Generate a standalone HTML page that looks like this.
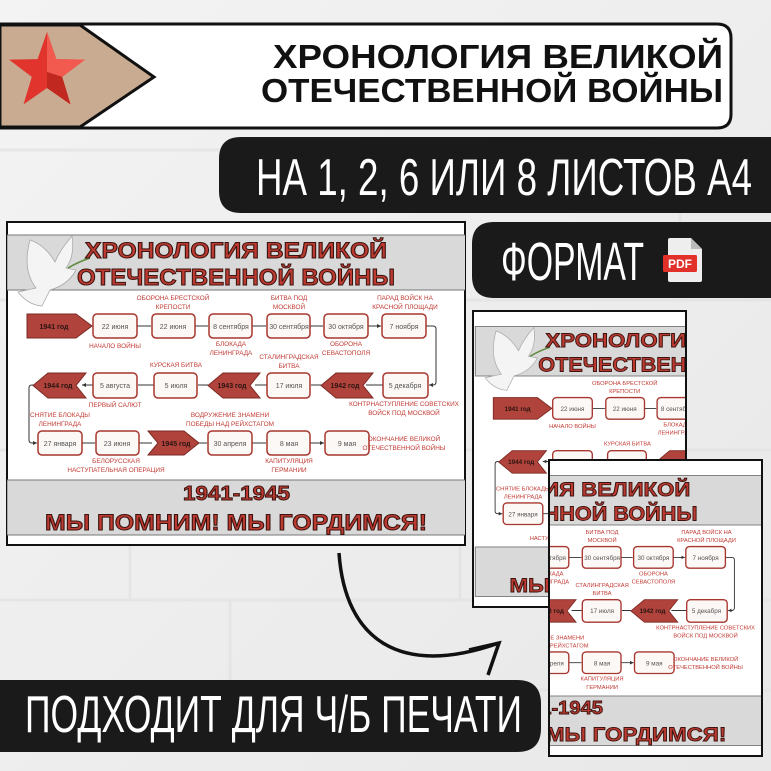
<!DOCTYPE html>
<html><head><meta charset="utf-8"><style>
html,body{margin:0;padding:0;width:771px;height:771px;overflow:hidden;background:#ececec}
svg{display:block}
.lb{font-family:"Liberation Sans Narrow","Liberation Sans",sans-serif;font-size:6.4px;fill:#c23a33;text-anchor:middle}
.bx{fill:#fbf8f6;stroke:#a8362f;stroke-width:1.5}
.bt{font-family:"Liberation Sans",sans-serif;font-size:7px;fill:#555;text-anchor:middle}
.yr{fill:#b0433b;stroke:#7d2a24;stroke-width:1}
.yt{font-family:"Liberation Sans",sans-serif;font-size:7px;font-weight:bold;fill:#2a1412;text-anchor:middle}
.cn{stroke:#333;stroke-width:1;fill:none}
.rt{font-family:"Liberation Sans",sans-serif;font-weight:bold;fill:#bd3a31;stroke:#3a1410;stroke-width:1}
</style></head><body>
<svg width="771" height="771" viewBox="0 0 771 771" xmlns="http://www.w3.org/2000/svg">
<defs>
<marker id="ah" markerWidth="5" markerHeight="5" refX="4" refY="2.5" orient="auto"><path d="M0,0.5 L4,2.5 L0,4.5 z" fill="#333"/></marker>
<linearGradient id="bg" x1="0" y1="0" x2="1" y2="1"><stop offset="0" stop-color="#f3f3f3"/><stop offset="1" stop-color="#e8e8e8"/></linearGradient>
<clipPath id="c1"><rect x="7" y="222" width="458" height="323"/></clipPath>
<clipPath id="c2"><rect x="473" y="311" width="213" height="296"/></clipPath>
<clipPath id="c3"><rect x="549" y="460" width="213" height="296"/></clipPath>
</defs>
<rect width="771" height="771" fill="url(#bg)"/>
<g stroke="#e2e2e2" stroke-width="3" fill="none" opacity="0.7">
<path d="M0,150 H771 M0,300 H771 M0,450 H771 M0,600 H771 M0,690 H771"/>
<path d="M230,600 V690 M600,600 V690 M130,450 V600 M460,450 V600 M300,300 V450 M680,150 V300"/>
</g>

<path d="M0,24 H717 Q731,24 731,38 V114 Q731,128 717,128 H0 Z" fill="#fff" stroke="#111" stroke-width="3"/>
<path d="M0,25 H80 L154,77 L80,127 H0 Z" fill="#c9ab92" stroke="#111" stroke-width="3"/>
<polygon points="47,32 56.4,59.1 85,59.6 62.2,76.9 70.5,104.4 47,88 23.5,104.4 31.8,76.9 9,59.6 37.6,59.1" fill="#e0342c"/>
<polygon points="47,32 56.4,59.1 85,59.6 62.2,76.9 47,72" fill="#f25a50"/>
<polygon points="47,72 62.2,76.9 70.5,104.4 47,88" fill="#c02820"/>
<text x="273" y="68" font-family="Liberation Sans,sans-serif" font-weight="bold" font-size="33" textLength="450" lengthAdjust="spacingAndGlyphs" fill="#111">ХРОНОЛОГИЯ ВЕЛИКОЙ</text>
<text x="261" y="102" font-family="Liberation Sans,sans-serif" font-weight="bold" font-size="33" textLength="462" lengthAdjust="spacingAndGlyphs" fill="#111">ОТЕЧЕСТВЕННОЙ ВОЙНЫ</text>

<path d="M771,137 H241 Q219,137 219,159 V191 Q219,213 241,213 H771 Z" fill="#1a1a1a"/>
<text x="256" y="195" font-family="Liberation Sans Narrow,Liberation Sans,sans-serif" font-size="52" textLength="496" lengthAdjust="spacingAndGlyphs" fill="#fff">НА 1, 2, 6 ИЛИ 8 ЛИСТОВ А4</text>

<path d="M771,222 H494 Q472,222 472,244 V276 Q472,298 494,298 H771 Z" fill="#1a1a1a"/>
<text x="501" y="280" font-family="Liberation Sans Narrow,Liberation Sans,sans-serif" font-size="54" textLength="143" lengthAdjust="spacingAndGlyphs" fill="#fff">ФОРМАТ</text>
<path d="M668,240 Q668,238 670,238 H691 L702,249 V280 Q702,282 700,282 H670 Q668,282 668,280 Z" fill="#eee"/>
<path d="M691,238 V249 H702 Z" fill="#bbb"/>
<rect x="663" y="255" width="34" height="17" rx="1.5" fill="#e2302a"/>
<text x="680" y="268" font-family="Liberation Sans,sans-serif" font-weight="bold" font-size="12" fill="#fff" text-anchor="middle">PDF</text>

<rect x="7" y="222" width="458" height="323" fill="#fff" stroke="#111" stroke-width="2"/>
<g clip-path="url(#c1)"><g id="D">
<rect x="7" y="235" width="470" height="55" fill="#d9d9d9" stroke="#777" stroke-width="1"/>
<path d="M30,240 Q45,245 55,262 Q60,250 72,236 Q75,256 66,268 L76,270 Q68,285 50,290 L42,306 Q28,305 18,292 L36,288 Q22,270 30,240 Z" fill="#f4f4f4" stroke="#aaa" stroke-width="0.8"/>
<path d="M68,268 Q78,262 90,258" stroke="#5c8a3a" stroke-width="1.6" fill="none"/>
<text x="85" y="258" class="rt" font-size="22" textLength="302" lengthAdjust="spacingAndGlyphs">ХРОНОЛОГИЯ ВЕЛИКОЙ</text>
<text x="77" y="285" class="rt" font-size="23" textLength="318" lengthAdjust="spacingAndGlyphs">ОТЕЧЕСТВЕННОЙ ВОЙНЫ</text>

<path class="cn" marker-end="url(#ah)" d="M92,326 H93 M137,326 H151 M195,326 H208 M252,326 H266 M310,326 H323 M368,326 H381"/>
<path class="cn" marker-end="url(#ah)" d="M426,326 H433 Q436,326 436,329 V382 Q436,385 433,385 H429"/>
<path class="cn" marker-end="url(#ah)" d="M383,385 H366 M321,385 H311 M267,385 H255 M208,385 H198 M154,385 H138 M93,385 H82"/>
<path class="cn" marker-end="url(#ah)" d="M33,385 H32 Q29,385 29,388 V440 Q29,443 32,443 H37"/>
<path class="cn" marker-end="url(#ah)" d="M82,443 H95 M139,443 H152 M199,443 H207 M252,443 H266 M310,443 H324"/>

<polygon class="yr" points="27,314 76,314 92,326 76,338 27,338"/><text class="yt" x="54" y="329">1941 год</text>
<rect class="bx" x="93" y="314" width="44" height="24" rx="4"/><text class="bt" x="115" y="329">22 июня</text>
<rect class="bx" x="152" y="314" width="43" height="24" rx="4"/><text class="bt" x="173" y="329">22 июня</text>
<rect class="bx" x="209" y="314" width="43" height="24" rx="4"/><text class="bt" x="231" y="329">8 сентября</text>
<rect class="bx" x="267" y="314" width="43" height="24" rx="4"/><text class="bt" x="289" y="329">30 сентября</text>
<rect class="bx" x="324" y="314" width="44" height="24" rx="4"/><text class="bt" x="346" y="329">30 октября</text>
<rect class="bx" x="382" y="314" width="44" height="24" rx="4"/><text class="bt" x="404" y="329">7 ноября</text>
<rect class="bx" x="383" y="373" width="45" height="25" rx="4"/><text class="bt" x="405" y="388">5 декабря</text>
<polygon class="yr" points="321,385.5 336,373 373,373 363,385.5 373,398 336,398"/><text class="yt" x="345" y="388">1942 год</text>
<rect class="bx" x="267" y="373" width="43" height="25" rx="4"/><text class="bt" x="289" y="388">17 июля</text>
<polygon class="yr" points="208,385.5 223,373 260,373 250,385.5 260,398 223,398"/><text class="yt" x="232" y="388">1943 год</text>
<rect class="bx" x="154" y="373" width="43" height="25" rx="4"/><text class="bt" x="176" y="388">5 июля</text>
<rect class="bx" x="93" y="373" width="44" height="25" rx="4"/><text class="bt" x="115" y="388">5 августа</text>
<polygon class="yr" points="33,385.5 48,373 86,373 76,385.5 86,398 48,398"/><text class="yt" x="58" y="388">1944 год</text>
<rect class="bx" x="38" y="431" width="44" height="24" rx="4"/><text class="bt" x="60" y="446">27 января</text>
<rect class="bx" x="96" y="431" width="43" height="24" rx="4"/><text class="bt" x="117" y="446">23 июня</text>
<polygon class="yr" points="148,431 184,431 199,443 184,455 148,455 158,443"/><text class="yt" x="176" y="446">1945 год</text>
<rect class="bx" x="208" y="431" width="44" height="24" rx="4"/><text class="bt" x="230" y="446">30 апреля</text>
<rect class="bx" x="267" y="431" width="43" height="24" rx="4"/><text class="bt" x="289" y="446">8 мая</text>
<rect class="bx" x="325" y="431" width="44" height="24" rx="4"/><text class="bt" x="347" y="446">9 мая</text>

<text class="lb" x="173" y="300">ОБОРОНА БРЕСТСКОЙ</text><text class="lb" x="173" y="309">КРЕПОСТИ</text>
<text class="lb" x="289" y="300">БИТВА ПОД</text><text class="lb" x="289" y="309">МОСКВОЙ</text>
<text class="lb" x="405" y="300">ПАРАД ВОЙСК НА</text><text class="lb" x="405" y="309">КРАСНОЙ ПЛОЩАДИ</text>
<text class="lb" x="115" y="348">НАЧАЛО ВОЙНЫ</text>
<text class="lb" x="231" y="346">БЛОКАДА</text><text class="lb" x="231" y="355">ЛЕНИНГРАДА</text>
<text class="lb" x="346" y="346">ОБОРОНА</text><text class="lb" x="346" y="355">СЕВАСТОПОЛЯ</text>
<text class="lb" x="289" y="359">СТАЛИНГРАДСКАЯ</text><text class="lb" x="289" y="368">БИТВА</text>
<text class="lb" x="176" y="367">КУРСКАЯ БИТВА</text>
<text class="lb" x="115" y="407">ПЕРВЫЙ САЛЮТ</text>
<text class="lb" x="404" y="406">КОНТРНАСТУПЛЕНИЕ СОВЕТСКИХ</text><text class="lb" x="404" y="415">ВОЙСК ПОД МОСКВОЙ</text>
<text class="lb" x="60" y="417">СНЯТИЕ БЛОКАДЫ</text><text class="lb" x="60" y="426">ЛЕНИНГРАДА</text>
<text class="lb" x="230" y="417">ВОДРУЖЕНИЕ ЗНАМЕНИ</text><text class="lb" x="230" y="426">ПОБЕДЫ НАД РЕЙХСТАГОМ</text>
<text class="lb" x="404" y="441">ОКОНЧАНИЕ ВЕЛИКОЙ</text><text class="lb" x="404" y="450">ОТЕЧЕСТВЕННОЙ ВОЙНЫ</text>
<text class="lb" x="116" y="463">БЕЛОРУССКАЯ</text><text class="lb" x="116" y="472">НАСТУПАТЕЛЬНАЯ ОПЕРАЦИЯ</text>
<text class="lb" x="289" y="463">КАПИТУЛЯЦИЯ</text><text class="lb" x="289" y="472">ГЕРМАНИИ</text>

<rect x="7" y="480" width="470" height="55" fill="#d9d9d9" stroke="#777" stroke-width="1"/>
<text x="183" y="500" class="rt" font-size="20" textLength="107" lengthAdjust="spacingAndGlyphs">1941-1945</text>
<text x="45" y="530" class="rt" font-size="22" textLength="382" lengthAdjust="spacingAndGlyphs">МЫ ПОМНИМ! МЫ ГОРДИМСЯ!</text>
</g></g>

<path d="M339,553 C345,640 400,678 499,643" fill="none" stroke="#111" stroke-width="3.5"/>
<path d="M469,650 L499,643 L488,675" fill="none" stroke="#111" stroke-width="3.5"/>

<rect x="473" y="311" width="213" height="296" fill="#fff"/>
<g clip-path="url(#c2)"><g transform="translate(469,115) scale(0.9)"><use href="#D"/></g></g>
<rect x="473" y="311" width="213" height="296" fill="none" stroke="#111" stroke-width="2"/>

<rect x="549" y="460" width="213" height="296" fill="#fff"/>
<g clip-path="url(#c3)"><g transform="translate(342,264) scale(0.9)"><use href="#D"/></g></g>
<rect x="549" y="460" width="213" height="296" fill="none" stroke="#111" stroke-width="2"/>

<path d="M0,680 H517 Q541,680 541,704 V728 Q541,752 517,752 H0 Z" fill="#1a1a1a"/>
<text x="25" y="732" font-family="Liberation Sans Narrow,Liberation Sans,sans-serif" font-size="52" textLength="497" lengthAdjust="spacingAndGlyphs" fill="#fff">ПОДХОДИТ ДЛЯ Ч/Б ПЕЧАТИ</text>
</svg>
</body></html>
